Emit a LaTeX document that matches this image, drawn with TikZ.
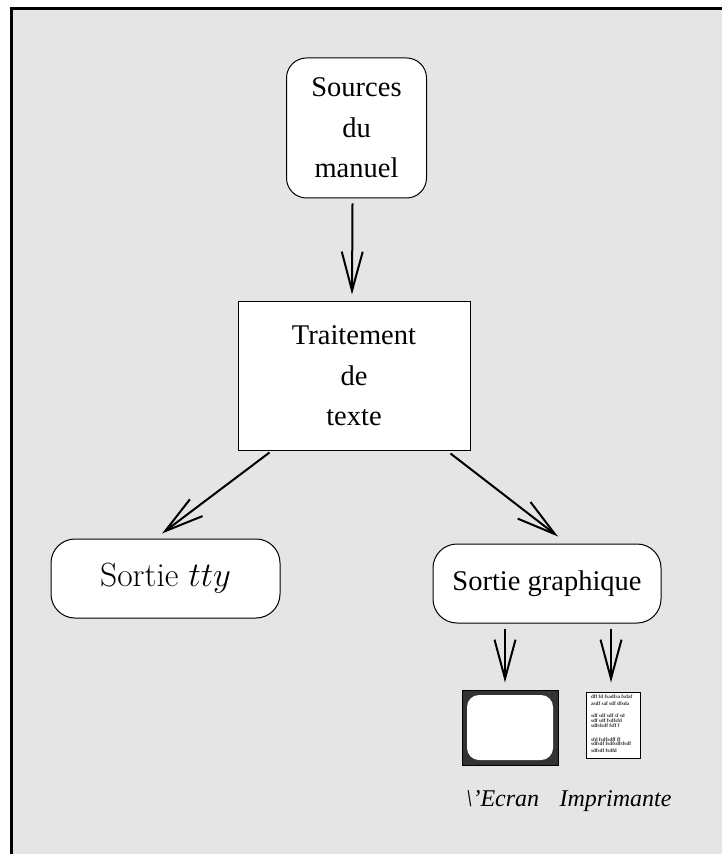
\documentclass[tikz,border=0pt]{standalone}
\usepackage{fontspec}
\setmainfont{Liberation Serif}
\newfontfamily\cmfont{Latin Modern Roman}
\usetikzlibrary{arrows.meta, positioning}
\definecolor{fond}{HTML}{E5E5E5}
\definecolor{cadre}{HTML}{333333}

\begin{document}
\begin{tikzpicture}[x=0.5pt, y=-0.5pt, ->, >={Straight Barb[length=19.5pt,width=10.5pt]}, line width=1pt]
			\tikzstyle{every node}=[font=\fontsize{14.25}{20.25}\selectfont]
			\tikzstyle{boite}=[draw, fill=white, line width=0.5pt, align=center, inner sep=0pt]
			\tikzstyle{arrondie}=[boite, rounded corners=10pt]
			\tikzstyle{legende}=[font=\fontsize{12}{14}\selectfont\itshape, anchor=base]
			
			\useasboundingbox (0,0) rectangle (722,854);
			\fill[fond] (10,7) rectangle (722,854);
			\draw[-, line width=1.5pt] (11,854) -- (11,8.5) -- (722,8.5);
			
			\node[arrondie, minimum width=70pt, minimum height=70pt] (sources) at (356.5,128) {Sources\\du\\manuel};
			\node[boite, minimum width=116pt, minimum height=74pt] (traitement) at (354,376) {Traitement\\de\\texte};
			\node[arrondie, rounded corners=12pt, minimum width=114.5pt, minimum height=39.5pt] (tty) at (165.5,578.5) {\fontsize{16.8}{18}\selectfont\cmfont Sortie $tty$};
			\node[arrondie, rounded corners=12pt, minimum width=114pt, minimum height=39.5pt] (graphique) at (547,583.5) {Sortie graphique};
			
			% ecran et imprimante
			\node[boite, fill=cadre, minimum width=48pt, minimum height=37.5pt] (ecran) at (510,727.5) {};
			\node[boite, draw=none, rounded corners=6pt, minimum width=43pt, minimum height=32.5pt] (vitre) at (ecran) {};
			\node[boite, minimum width=27pt, minimum height=33pt] (imprimante) at (613,725) {};
			\foreach \y/\t in {698/dff fd fsadfsa fsdaf, 705.5/asdf saf sdf dfsda, 717.5/sdf sdf sdf sf sd,
				722.5/sdf sdf fsdfsfd, 727.5/sdfsfsdf fsff f, 741/sfd fsdfsdff ff,
				745.5/sdfsdf fsdfsdfsfsdf, 752.5/sdfsdf fsdfd}
				\node[anchor=base west, inner sep=0pt, font=\fontsize{2.6}{3}\selectfont\bfseries, text=black!80] at (590,\y) {\t};
			
			\node[legende] (lecran) at (502.5,806) {\textbackslash'Ecran};
			\node[legende] (limprimante) at (615.5,806) {Imprimante};
			
			\draw ([xshift=-2pt, yshift=-2.5pt]sources.south) -- ([xshift=-1pt, yshift=3.5pt]traitement.north);
			\draw ([xshift=16pt, yshift=-1pt]traitement.south west) -- ([xshift=-1.75pt, yshift=2.5pt]tty.north);
			\draw ([xshift=-10pt, yshift=-1.5pt]traitement.south east) -- ([xshift=5.5pt, yshift=3.5pt]graphique.north);
			\draw ([xshift=-21pt, yshift=-2.5pt]graphique.south) -- ([xshift=-2.5pt, yshift=3.5pt]ecran.north);
			\draw ([xshift=32pt, yshift=-2.5pt]graphique.south) -- ([xshift=-1pt, yshift=4.5pt]imprimante.north);
		\end{tikzpicture}
\end{document}
